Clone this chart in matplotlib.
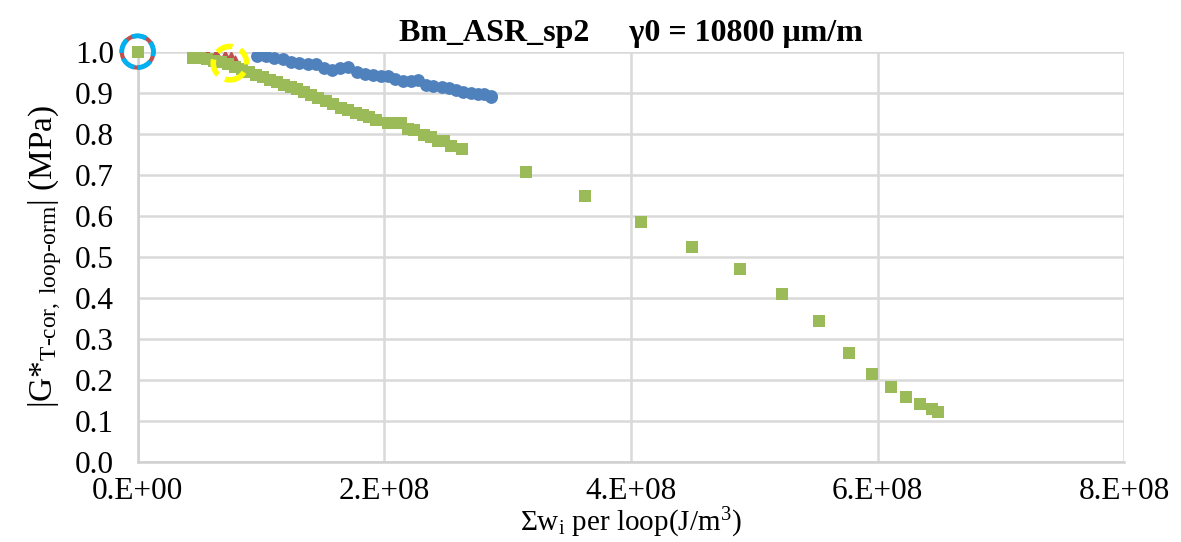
import matplotlib.pyplot as plt
import numpy as np

plt.rcParams['font.family'] = ['Liberation Serif', 'DejaVu Serif']
plt.rcParams['mathtext.fontset'] = 'custom'
plt.rcParams['mathtext.rm'] = 'Liberation Serif'
plt.rcParams['mathtext.it'] = 'Liberation Serif:italic'

# blue circles (x in 1E8 J/m3)
blue_x = [0.970, 1.041, 1.108, 1.176, 1.244, 1.311, 1.379, 1.446, 1.511, 1.576,
          1.644, 1.709, 1.777, 1.842, 1.907, 1.973, 2.028, 2.089, 2.154, 2.217,
          2.271, 2.336, 2.398, 2.465, 2.525, 2.579, 2.636, 2.701, 2.758, 2.811,
          2.863, 2.865]
blue_y = [0.9895, 0.9902, 0.9838, 0.9814, 0.9748, 0.9716, 0.9699, 0.9707, 0.9602, 0.9561,
          0.9610, 0.9620, 0.9498, 0.9464, 0.9432, 0.9415, 0.9415, 0.9327, 0.9293, 0.9278,
          0.9302, 0.9180, 0.9171, 0.9139, 0.9107, 0.9073, 0.9024, 0.8985, 0.8961, 0.8968,
          0.8927, 0.8888]

# green squares
green_x = [0.4475, 0.5059, 0.5667, 0.6234, 0.6802, 0.7369, 0.7937, 0.8504, 0.9072, 0.9639,
           1.0207, 1.0774, 1.1342, 1.1909, 1.2436, 1.2963, 1.3490, 1.4058, 1.4625, 1.5290,
           1.5825, 1.6506, 1.7041, 1.7722, 1.8257, 1.8800, 1.9343, 2.0284, 2.0827, 2.1370,
           2.1905, 2.2448, 2.3259, 2.3802, 2.4337, 2.4881, 2.5424, 2.6315,
           3.151, 3.630, 4.083, 4.497, 4.886, 5.227, 5.527, 5.770, 5.956, 6.110,
           6.232, 6.345, 6.443, 6.491]
green_y = [0.9851, 0.9846, 0.9822, 0.9785, 0.9737, 0.9688, 0.9639, 0.9578, 0.9517, 0.9444,
           0.9383, 0.9322, 0.9249, 0.9200, 0.9139, 0.9090, 0.9017, 0.8956, 0.8883, 0.8793,
           0.8729, 0.8622, 0.8566, 0.8510, 0.8461, 0.8402, 0.8322, 0.8266, 0.8266, 0.8266,
           0.8119, 0.8095, 0.7973, 0.7915, 0.7834, 0.7834, 0.7712, 0.7632,
           0.706, 0.647, 0.584, 0.523, 0.469, 0.408, 0.342, 0.266, 0.213, 0.182,
           0.157, 0.140, 0.128, 0.120]

# red triangles (mostly hidden)
red_x = [0.555, 0.634, 0.709, 0.758, 0.790]
red_y = [0.997, 0.992, 0.986, 0.984, 0.976]

# highlighted points
start_x, start_y = 0.0, 1.0
hl_x, hl_y = 0.749, 0.972

xticks = [0, 2, 4, 6, 8]
xtick_labels = ['0.E+00', '2.E+08', '4.E+08', '6.E+08', '8.E+08']
yticks = np.round(np.arange(0, 1.01, 0.1), 1)

fig = plt.figure(figsize=(11.81, 5.42), dpi=100)
ax = fig.add_axes([0.1165, 0.1482, 0.8355, 0.7564])

ax.scatter(red_x, red_y, marker='^', s=85, color='#C0504D', zorder=3)
ax.scatter(green_x, green_y, marker='s', s=75, color='#9BBB59', linewidths=0, zorder=4)
ax.scatter(blue_x, blue_y, marker='o', s=85, color='#4F81BD', linewidths=0, zorder=5)

# start point with dashed circle
ax.scatter([start_x], [start_y], marker='o', s=520, facecolors='none',
           edgecolors='#C0504D', linewidths=3, zorder=6, clip_on=False)
ax.scatter([start_x], [start_y], marker='o', s=520, facecolors='none',
           edgecolors='#00B0F0', linewidths=3.5, linestyles=(0, (3, 1.2)), zorder=7, clip_on=False)
ax.scatter([start_x], [start_y], marker='s', s=75, color='#9BBB59', linewidths=0,
           zorder=8, clip_on=False)

ax.scatter([hl_x], [hl_y], marker='o', s=580, facecolors='none',
           edgecolors='#FFFF00', linewidths=4, linestyles=(0, (3, 1.5)), zorder=7,
           clip_on=False)

ax.set_xlim(0, 8)
ax.set_ylim(0, 1.0)
ax.set_xticks(xticks)
ax.set_xticklabels(xtick_labels)
ax.set_yticks(yticks)
ax.set_yticklabels([f'{v:.1f}' for v in yticks])
ax.tick_params(length=0, labelsize=22.5)
ax.tick_params(axis='y', pad=17)
ax.tick_params(axis='x', pad=11)

ax.grid(True, color='#d9d9d9', linewidth=1.8)
ax.set_axisbelow(True)
for s in ['top', 'right']:
    ax.spines[s].set_visible(False)
for s in ['left', 'bottom']:
    ax.spines[s].set_color('#d0d0d0')
    ax.spines[s].set_linewidth(1.8)

ax.set_title('Bm_ASR_sp2     \u03b30 = 10800 \u03bcm/m', fontsize=23, fontweight='bold', pad=8)
ax.set_xlabel(r'$\Sigma\mathrm{w}_{\mathrm{i}}$ per loop(J/m$^{3}$)', fontsize=21, labelpad=0)
ax.set_ylabel(r'$|\mathrm{G}$*$_{\mathrm{T\text{-}cor,\ loop\text{-}orm}}|$ (MPa)', fontsize=24, labelpad=8)

fig.savefig('out.png', dpi=100)
